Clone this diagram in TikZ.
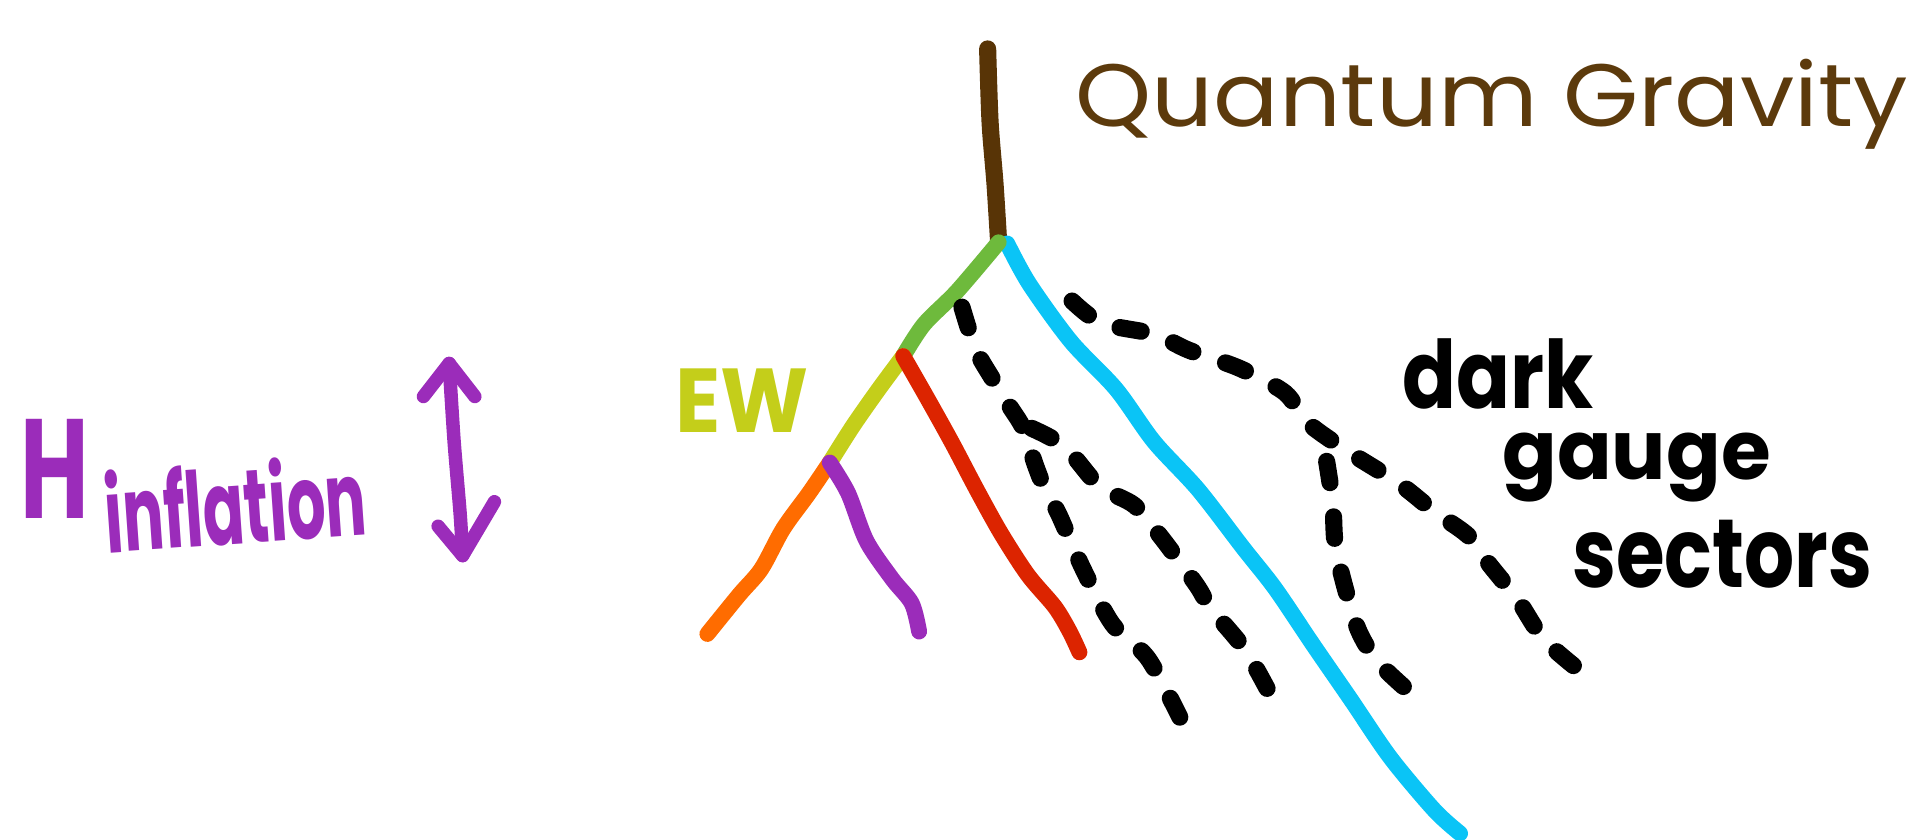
\documentclass[tikz,border=0pt]{standalone}
\usepackage{fontspec}
\setmainfont{Poppins}
\definecolor{qgbrown}{RGB}{88,52,6}
\definecolor{qgtext}{RGB}{92,58,12}
\definecolor{ewgreen}{RGB}{110,186,60}
\definecolor{ewyellow}{RGB}{196,206,26}
\definecolor{brred}{RGB}{220,36,0}
\definecolor{brorange}{RGB}{255,108,0}
\definecolor{brpurple}{RGB}{155,44,186}
\definecolor{brcyan}{RGB}{10,196,246}
\begin{document}
\begin{tikzpicture}[x=0.01cm,y=-0.01cm,line cap=round,line join=round,
  branch/.style={line width=0.13cm},
  darkdash/.style={line width=0.14cm,black,dash pattern=on 5pt off 8pt},
  lbl/.style={inner sep=0pt,anchor=base west}]
\useasboundingbox (0,0) rectangle (1568,686);
% junctions and ends
\coordinate (qgtop) at (807,40);
\coordinate (root) at (816,198);
\coordinate (cyantop) at (823,199);
\coordinate (ewtop) at (738,291);
\coordinate (hj) at (678,378);
\coordinate (redend) at (882,533);
\coordinate (orangeend) at (578,518);
\coordinate (purpleend) at (751,516);
\coordinate (cyanend) at (1193,681);
% coloured branches
\draw[branch,qgbrown,line width=0.14cm] plot[smooth,tension=0.5] coordinates {(qgtop) (809,100) (813,150) (root)};
\draw[branch,brcyan] plot[smooth,tension=0.5] coordinates {(cyantop) (841,232) (875,279) (912,318) (943,361) (979,400) (1016,448) (1042,481) (1073,527) (1104,572) (1136,619) (1172,662) (cyanend)};
\draw[branch,ewgreen] plot[smooth,tension=0.5] coordinates {(root) (782,238) (755,265) (ewtop)};
\draw[branch,ewyellow] plot[smooth,tension=0.5] coordinates {(ewtop) (718,318) (697,348) (hj)};
\draw[branch,brred] plot[smooth,tension=0.5] coordinates {(ewtop) (758,326) (778,362) (798,400) (818,436) (840,470) (862,496) (874,516) (redend)};
\draw[branch,brorange] plot[smooth,tension=0.5] coordinates {(hj) (661,403) (640,432) (622,465) (604,486) (orangeend)};
\draw[branch,brpurple] plot[smooth,tension=0.5] coordinates {(hj) (693,403) (708,442) (729,473) (745,493) (purpleend)};
% dark sectors
\coordinate (d1top) at (786,251);
\coordinate (d1end) at (964,586);
\coordinate (d2top) at (843,350);
\coordinate (d2end) at (1044,579);
\coordinate (d3top) at (876,246);
\coordinate (d3end) at (1297,553);
\coordinate (d4top) at (1084,377);
\coordinate (d4end) at (1149,563);
\draw[darkdash] plot[smooth,tension=0.5] coordinates {(d1top) (797,285) (810,308) (825,332) (836,350) (846,380) (854,400) (865,420) (885,465) (909,510) (938,538) (d1end)};
\draw[darkdash] plot[smooth,tension=0.5] coordinates {(d2top) (870,365) (898,397) (927,413) (948,438) (966,462) (979,480) (990,498) (1018,532) (d2end)};
\draw[darkdash] plot[smooth,tension=0.5] coordinates {(d3top) (900,264) (943,273) (971,286) (1013,301) (1050,321) (1068,345) (1100,368) (1143,395) (1172,418) (1200,438) (1216,460) (1240,490) (1262,523) (d3end)};
\draw[darkdash] plot[smooth,tension=0.5] coordinates {(d4top) (1089,411) (1091,445) (1099,480) (1110,515) (1125,540) (d4end)};
% labels
\node[lbl,text=qgtext] (qg) at (878,103) {\resizebox{6.8cm}{0.55cm}{Quantum Gravity}};
\node[lbl,text=ewyellow,font=\bfseries] (ew) at (551,353) {\resizebox{1.09cm}{0.52cm}{EW}};
\node[lbl,font=\bfseries] (dark) at (1145,334) {\resizebox{1.56cm}{0.57cm}{dark}};
\node[lbl,font=\bfseries] (gauge) at (1227,392) {\resizebox{2.19cm}{0.38cm}{gauge}};
\node[lbl,font=\bfseries] (sectors) at (1284,480) {\resizebox{2.45cm}{0.55cm}{sectors}};
\node[lbl,text=brpurple,font=\bfseries] (H) at (16,424) {\resizebox{0.56cm}{0.81cm}{H}};
\node[lbl,text=brpurple,font=\bfseries,rotate=4] (infl) at (87,452) {\resizebox{2.14cm}{0.68cm}{inflation}};
% double arrow
\coordinate (arrtop) at (367,297);
\coordinate (arrbot) at (378,454);
\draw[branch,brpurple,line width=0.11cm] plot[smooth,tension=0.5] coordinates {(arrtop) (371,360) (376,420) (arrbot)};
\draw[branch,brpurple,line width=0.11cm] (346,324) -- (arrtop) -- (388,324);
\draw[branch,brpurple,line width=0.11cm] (358,430) -- (arrbot) -- (404,410);
\end{tikzpicture}
\end{document}
